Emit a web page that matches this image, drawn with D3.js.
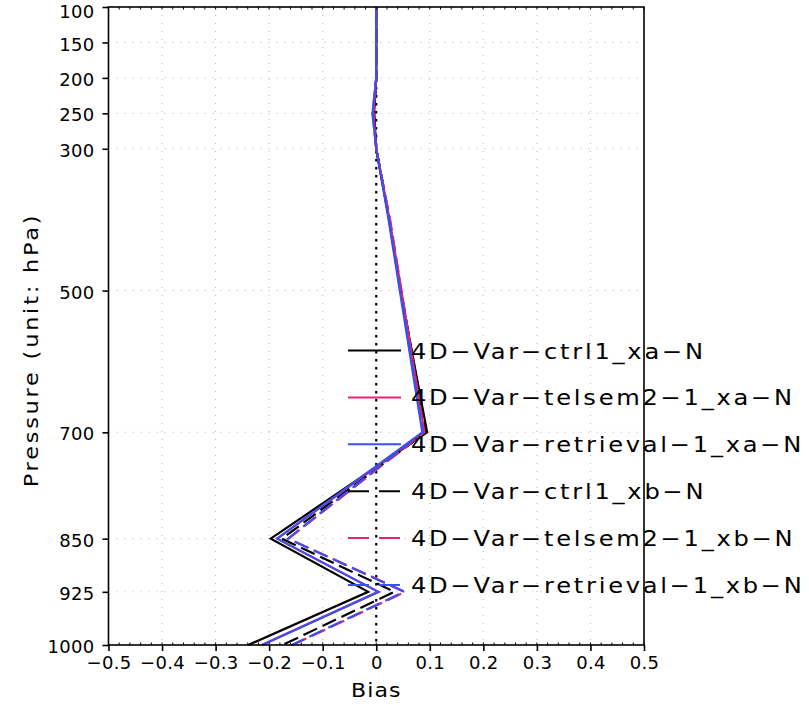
<!DOCTYPE html>
<html><head><meta charset="utf-8">
<script src="https://cdn.jsdelivr.net/npm/d3@7"></script>
<style>
body{margin:0;background:#fff}
text{font-family:"DejaVu Sans",sans-serif;fill:#000}
</style>
</head><body>
<svg id="c" width="809" height="705"></svg>
<script>
// ---- data ----
const levels = [100, 150, 200, 250, 300, 400, 500, 700, 850, 925, 1000];
const ctrl1_xa     = [0, 0, 0, -0.004, 0, 0.024, 0.045, 0.095, -0.197, -0.015, -0.239];
const telsem2_1_xa = [0, 0, 0, -0.005, 0, 0.025, 0.047, 0.090, -0.185,  0.004, -0.214];
const retrieval_xa = [0, 0, 0, -0.007, 0, 0.023, 0.044, 0.086, -0.185,  0.004, -0.213];
const ctrl1_xb     = [0, 0, 0, -0.004, 0, 0.025, 0.046, 0.093, -0.176,  0.034, -0.175];
const telsem2_1_xb = [0, 0, 0, -0.005, 0, 0.026, 0.047, 0.090, -0.164,  0.054, -0.156];
const retrieval_xb = [0, 0, 0, -0.007, 0, 0.024, 0.045, 0.087, -0.165,  0.052, -0.158];
const seriesNames = ["4D−Var−ctrl1_xa−N", "4D−Var−telsem2−1_xa−N", "4D−Var−retrieval−1_xa−N",
                     "4D−Var−ctrl1_xb−N", "4D−Var−telsem2−1_xb−N", "4D−Var−retrieval−1_xb−N"];
const seriesValues = [ctrl1_xa, telsem2_1_xa, retrieval_xa, ctrl1_xb, telsem2_1_xb, retrieval_xb];
const xTicks = [-0.5, -0.4, -0.3, -0.2, -0.1, 0, 0.1, 0.2, 0.3, 0.4, 0.5];
const yTicks = [100, 150, 200, 250, 300, 500, 700, 850, 925, 1000];
const xTitle = "Bias";
const yTitle = "Pressure (unit: hPa)";

// ---- styles ----
const colors = ["#000000", "#e8246e", "#3c50f0", "#000000", "#e8246e", "#3c50f0"];
const dashes = [null, null, null, "15,6", "15,6", "15,6"];

const svg = d3.select("#c");
const L = 108.5, R = 644, T = 7, B = 645;
const x = d3.scaleLinear().domain([-0.5, 0.5]).range([L, R]);
const y = d3.scaleLinear().domain([100, 1000]).range([T, B]);

// grid
const g = svg.append("g");
g.selectAll(".vg").data(xTicks.filter(d => d !== 0 && Math.abs(d) < 0.5)).join("line")
  .attr("x1", d => x(d)).attr("x2", d => x(d)).attr("y1", T).attr("y2", B)
  .attr("stroke", "#b4b4b4").attr("stroke-width", 1).attr("stroke-dasharray", "1,7");
g.selectAll(".hg").data(yTicks.filter(d => d > 100 && d < 1000)).join("line")
  .attr("y1", d => y(d)).attr("y2", d => y(d)).attr("x1", L).attr("x2", R)
  .attr("stroke", "#b4b4b4").attr("stroke-width", 1).attr("stroke-dasharray", "1,7");

// zero line
svg.append("line").attr("x1", x(0)).attr("x2", x(0)).attr("y1", T).attr("y2", B)
  .attr("stroke", "#000").attr("stroke-width", 2.2).attr("stroke-dasharray", "2.5,5.5");

// series
const line = d3.line().x(d => x(d[0])).y(d => y(d[1]));
seriesValues.forEach((vals, i) => {
  const pts = vals.map((v, k) => [v, levels[k]]);
  svg.append("path").datum(pts).attr("d", line)
    .attr("fill", "none").attr("stroke", colors[i]).attr("stroke-width", 2.2)
    .attr("stroke-linejoin", "miter")
    .attr("stroke-dasharray", dashes[i]);
});

// frame
svg.append("rect").attr("x", L).attr("y", T).attr("width", R - L).attr("height", B - T)
  .attr("fill", "none").attr("stroke", "#000").attr("stroke-width", 1.6);

// axes
const xAxis = d3.axisBottom(x).tickValues(xTicks).tickSize(6).tickPadding(4)
  .tickFormat(d => d === 0 ? "0" : d3.format(".1f")(d));
const gx = svg.append("g").attr("transform", `translate(0,${B})`).call(xAxis);
gx.select(".domain").remove();
gx.selectAll("line").attr("stroke-width", 1.6);
gx.selectAll("text").attr("font-size", 18).attr("font-family", "DejaVu Sans").attr("dy", "0.78em")
  .attr("letter-spacing", 0.3);

const yAxis = d3.axisLeft(y).tickValues(yTicks).tickSize(6).tickPadding(8)
  .tickFormat(d3.format("d"));
const gy = svg.append("g").attr("transform", `translate(${L},0)`).call(yAxis);
gy.select(".domain").remove();
gy.selectAll("line").attr("stroke-width", 1.6);
gy.selectAll("text").attr("font-size", 18).attr("font-family", "DejaVu Sans")
  .attr("letter-spacing", 0.3)
  .attr("dy", d => d === 100 ? "0.58em" : "0.42em");

// minor ticks (inside)
const minorX = d3.range(-0.5, 0.5001, 0.02);
svg.append("g").selectAll("line").data(minorX).join("line")
  .attr("x1", d => x(d)).attr("x2", d => x(d)).attr("y1", B).attr("y2", B - 2.5)
  .attr("stroke", "#000").attr("stroke-width", 1);
svg.append("g").selectAll("line").data(minorX).join("line")
  .attr("x1", d => x(d)).attr("x2", d => x(d)).attr("y1", T).attr("y2", T + 2.5)
  .attr("stroke", "#000").attr("stroke-width", 1);

// titles
svg.append("text").attr("transform", `translate(${(L + R) / 2},697) scale(1.1,1)`)
  .attr("text-anchor", "middle")
  .attr("font-size", 20).attr("letter-spacing", 1).text(xTitle);
svg.append("text").attr("transform", `translate(38,350) rotate(-90) scale(1.12,1)`)
  .attr("text-anchor", "middle").attr("font-size", 20).attr("letter-spacing", 2.5).text(yTitle);

// legend
const legY0 = 350.5, legDy = 46.9;
seriesNames.forEach((name, i) => {
  const ly = legY0 + i * legDy;
  svg.append("line").attr("x1", 348).attr("x2", 401).attr("y1", ly).attr("y2", ly)
    .attr("stroke", colors[i]).attr("stroke-width", 2)
    .attr("stroke-dasharray", dashes[i] ? "21,10" : null);
  svg.append("text").attr("transform", `translate(411,${ly + 8}) scale(1.15,1)`)
    .attr("font-size", 21).attr("letter-spacing", 2.4).text(name);
});
</script>
</body></html>
